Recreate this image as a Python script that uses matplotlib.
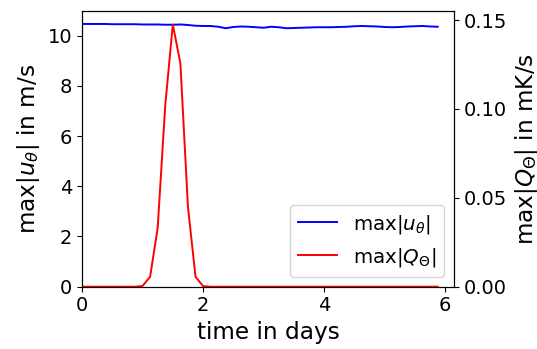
import numpy as np
import matplotlib
matplotlib.use("Agg")
import matplotlib.pyplot as plt

# time axis: 3-hourly output, in days
time = np.arange(48) * 0.125

# max |u_theta| in m/s
u_max = [10.46, 10.46, 10.46, 10.46, 10.45, 10.45, 10.45, 10.45,
         10.44, 10.44, 10.44, 10.43, 10.43, 10.44, 10.42, 10.39,
         10.38, 10.38, 10.35, 10.29, 10.34, 10.36, 10.35, 10.33,
         10.31, 10.35, 10.33, 10.29, 10.30, 10.31, 10.32, 10.33,
         10.33, 10.33, 10.34, 10.35, 10.37, 10.38, 10.37, 10.36,
         10.34, 10.33, 10.34, 10.36, 10.37, 10.38, 10.36, 10.35]

# max |Q_Theta| in mK/s
q_max = [0, 0, 0, 0, 0, 0, 0, 0,
         0.0004, 0.0056, 0.033, 0.102, 0.1475, 0.1257, 0.045, 0.0056,
         0.0003, 0, 0, 0, 0, 0, 0, 0,
         0, 0, 0, 0, 0, 0, 0, 0,
         0, 0, 0, 0, 0, 0, 0, 0,
         0, 0, 0, 0, 0, 0, 0, 0]

fig = plt.figure(figsize=(5.37, 3.49), dpi=100)
ax = fig.add_axes([0.1527, 0.1785, 0.6933, 0.7895])
ax2 = ax.twinx()

l1, = ax.plot(time, u_max, color="blue", lw=1.4, label=r"max$|u_\theta|$")
l2, = ax2.plot(time, q_max, color="red", lw=1.4, label=r"max$|Q_\Theta|$")

ax.set_xlim(0, 6.15)
ax.set_ylim(0, 10.97)
ax2.set_ylim(0, 0.155)
ax.set_xticks([0, 2, 4, 6])
ax.set_yticks([0, 2, 4, 6, 8, 10])
ax2.set_yticks([0, 0.05, 0.10, 0.15])

ax.set_xlabel("time in days", fontsize=16.7)
ax.set_ylabel(r"max$|u_\theta|$ in m/s", fontsize=16.7)
ax2.set_ylabel(r"max$|Q_\Theta|$ in mK/s", fontsize=16.7)
ax.tick_params(labelsize=14)
ax2.tick_params(labelsize=14)

ax2.legend([l1, l2], [l1.get_label(), l2.get_label()], loc="lower right", fontsize=14.3)

fig.savefig("out.png", dpi=100)
